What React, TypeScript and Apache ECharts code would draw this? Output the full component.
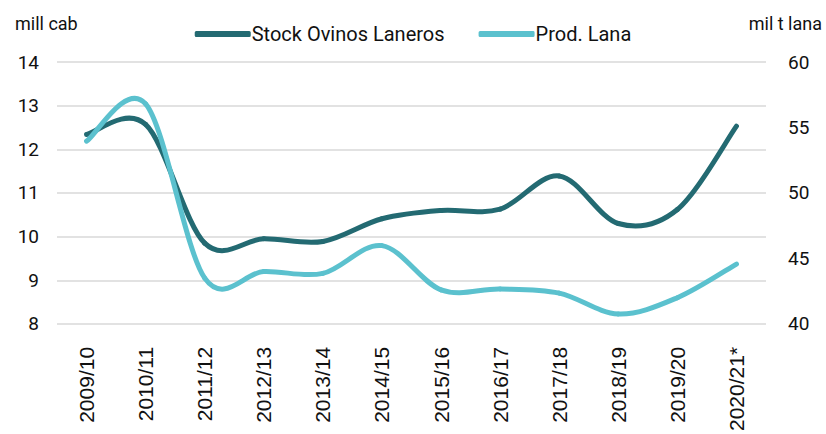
import React, { useEffect, useRef } from "react";
import * as echarts from "echarts";

const categories = ["2009/10", "2010/11", "2011/12", "2012/13", "2013/14", "2014/15", "2015/16", "2016/17", "2017/18", "2018/19", "2019/20", "2020/21*"];
const stockOvinos = [12.34, 12.57, 9.85, 9.95, 9.89, 10.41, 10.6, 10.63, 11.39, 10.3, 10.62, 12.53];
const prodLana = [53.95, 56.8, 43.5, 44.0, 43.86, 45.98, 42.6, 42.67, 42.35, 40.76, 42.0, 44.57];

const DARK = "#236a72";
const LIGHT = "#5bc1ce";
const FONT = "Roboto";

function smoothRenderer(values: number[], color: string) {
  return (params: any, api: any) => {
    const i = params.dataIndex;
    const n = values.length;
    if (i >= n - 1) return { type: "group", children: [] };
    const pt = (k: number) => {
      const kk = Math.max(0, Math.min(n - 1, k));
      return api.coord([kk, values[kk]]);
    };
    const p0 = pt(i - 1);
    const p1 = pt(i);
    const p2 = pt(i + 1);
    const p3 = pt(i + 2);
    return {
      type: "bezierCurve",
      shape: {
        x1: p1[0],
        y1: p1[1],
        x2: p2[0],
        y2: p2[1],
        cpx1: p1[0] + (p2[0] - p0[0]) / 6,
        cpy1: p1[1] + (p2[1] - p0[1]) / 6,
        cpx2: p2[0] - (p3[0] - p1[0]) / 6,
        cpy2: p2[1] - (p3[1] - p1[1]) / 6,
      },
      style: { stroke: color, lineWidth: 5, fill: null, lineCap: "round" },
    };
  };
}

export default function App() {
  const ref = useRef<HTMLDivElement>(null);
  useEffect(() => {
    const chart = echarts.init(ref.current!, undefined, { renderer: "svg" });
    chart.setOption({
      animation: false,
      backgroundColor: "#ffffff",
      textStyle: { fontFamily: FONT },
      grid: { left: 57, right: 60, top: 62, bottom: 108, containLabel: false },
      legend: {
        top: 19,
        left: "center",
        itemWidth: 56,
        itemHeight: 6,
        itemGap: 34,
        textStyle: { fontFamily: FONT, fontSize: 20, color: "#111", padding: [0, 0, 0, -4] },
        data: [
          { name: "Stock Ovinos Laneros", icon: "roundRect", itemStyle: { color: DARK } },
          { name: "Prod. Lana", icon: "roundRect", itemStyle: { color: LIGHT } },
        ],
      },
      graphic: [
        { type: "text", left: 15, top: 14, style: { text: "mill cab", font: `18px ${FONT}`, fill: "#111" } },
        { type: "text", right: 4, top: 14, style: { text: "mil t lana", font: `18px ${FONT}`, fill: "#111" } },
      ],
      xAxis: {
        type: "category",
        data: categories,
        boundaryGap: true,
        axisLine: { show: false },
        axisTick: { show: false },
        axisLabel: { rotate: 90, fontSize: 21, fontFamily: "Liberation Sans", color: "#111", margin: 23, interval: 0 },
      },
      yAxis: [
        {
          type: "value",
          min: 8,
          max: 14,
          interval: 1,
          axisLine: { show: false },
          axisTick: { show: false },
          axisLabel: { fontSize: 19, color: "#111", margin: 18 },
          splitLine: { lineStyle: { color: "#d9d9d9", width: 1.5 } },
        },
        {
          type: "value",
          min: 40,
          max: 60,
          interval: 5,
          position: "right",
          axisLine: { show: false },
          axisTick: { show: false },
          axisLabel: { fontSize: 19, color: "#111", margin: 22 },
          splitLine: { show: false },
        },
      ],
      series: [
        {
          name: "Stock Ovinos Laneros",
          type: "custom",
          yAxisIndex: 0,
          data: stockOvinos.map((v, i) => [i, v]),
          encode: { x: 0, y: 1 },
          itemStyle: { color: DARK },
          renderItem: smoothRenderer(stockOvinos, DARK),
        },
        {
          name: "Prod. Lana",
          type: "custom",
          yAxisIndex: 1,
          data: prodLana.map((v, i) => [i, v]),
          encode: { x: 0, y: 1 },
          itemStyle: { color: LIGHT },
          renderItem: smoothRenderer(prodLana, LIGHT),
        },
      ],
    });
    return () => chart.dispose();
  }, []);
  return <div ref={ref} style={{ width: 826, height: 434, position: "absolute", left: 0, top: 0 }} />;
}
